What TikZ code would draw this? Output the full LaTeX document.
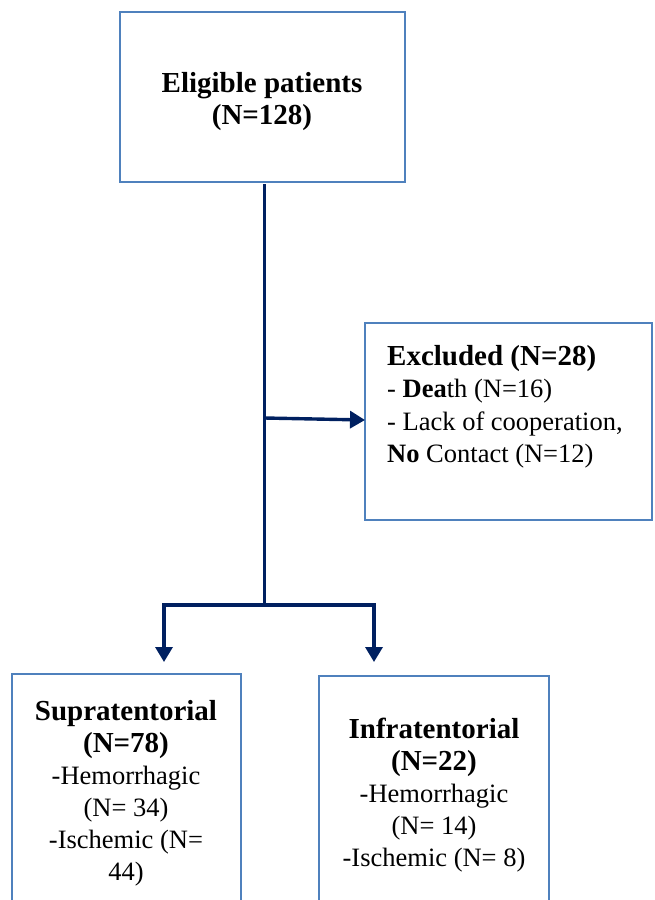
\documentclass[tikz,border=0pt]{standalone}
\usepackage{fontspec}
\setmainfont{Liberation Serif}
\usetikzlibrary{arrows.meta}
\definecolor{boxblue}{HTML}{4F81BD}
\definecolor{navy}{HTML}{002060}
\begin{document}
\begin{tikzpicture}[x=1pt,y=-1pt,
  boxframe/.style={draw=boxblue,line width=2.4pt,fill=white},
  flow/.style={draw=navy,line width=3.4pt},
  flowarrow/.style={flow,-{Triangle[length=15pt,width=17pt]}},
  txt/.style={inner sep=0pt,font=\fontsize{26.5}{32}\selectfont}]
\useasboundingbox (0,0) rectangle (654,900);
\clip (0,0) rectangle (654,900);
% boxes
\draw[boxframe] (120,12) rectangle (405,182);
\coordinate (topbot) at (264.5,184);
\draw[boxframe] (365,323) rectangle (652,520);
\coordinate (exclw) at (365,420);
\draw[boxframe] (12,674) rectangle (241,930);
\draw[boxframe] (319,676) rectangle (549,930);
% texts
\node[txt,anchor=north,align=center] (top) at (262,72)
  {{\fontsize{29}{32.5}\selectfont\bfseries Eligible patients}\\
   {\fontsize{29}{32.5}\selectfont\bfseries (N=128)}};
\node[txt,anchor=north west,align=left,font=\fontsize{26.5}{32.5}\selectfont] (excl) at (387,345)
  {{\fontsize{29}{32.5}\selectfont\bfseries Excluded (N=28)}\\
   - \textbf{Dea}th (N=16)\\
   - Lack of cooperation,\\
   \textbf{No} Contact (N=12)};
\node[txt,anchor=north,align=center] (supra) at (126,700)
  {{\fontsize{29}{32}\selectfont\bfseries Supratentorial}\\
   {\fontsize{29}{32}\selectfont\bfseries (N=78)}\\
   -Hemorrhagic\\
   (N= 34)\\
   -Ischemic (N=\\
   44)};
\node[txt,anchor=north,align=center] (infra) at (434,718)
  {{\fontsize{29}{32}\selectfont\bfseries Infratentorial}\\
   {\fontsize{29}{32}\selectfont\bfseries (N=22)}\\
   -Hemorrhagic\\
   (N= 14)\\
   -Ischemic (N= 8)};
% connectors
\coordinate (split) at (264.5,605);
\coordinate (branch) at (264.5,418);
\coordinate (lcorner) at (164,605);
\coordinate (rcorner) at (374,605);
\draw[flow] (topbot) -- (split);
\draw[flowarrow] (branch) -- (exclw);
\draw[flowarrow] (split) -- (lcorner) -- (164,662);
\draw[flowarrow] (split) -- (rcorner) -- (374,662);
\end{tikzpicture}
\end{document}
